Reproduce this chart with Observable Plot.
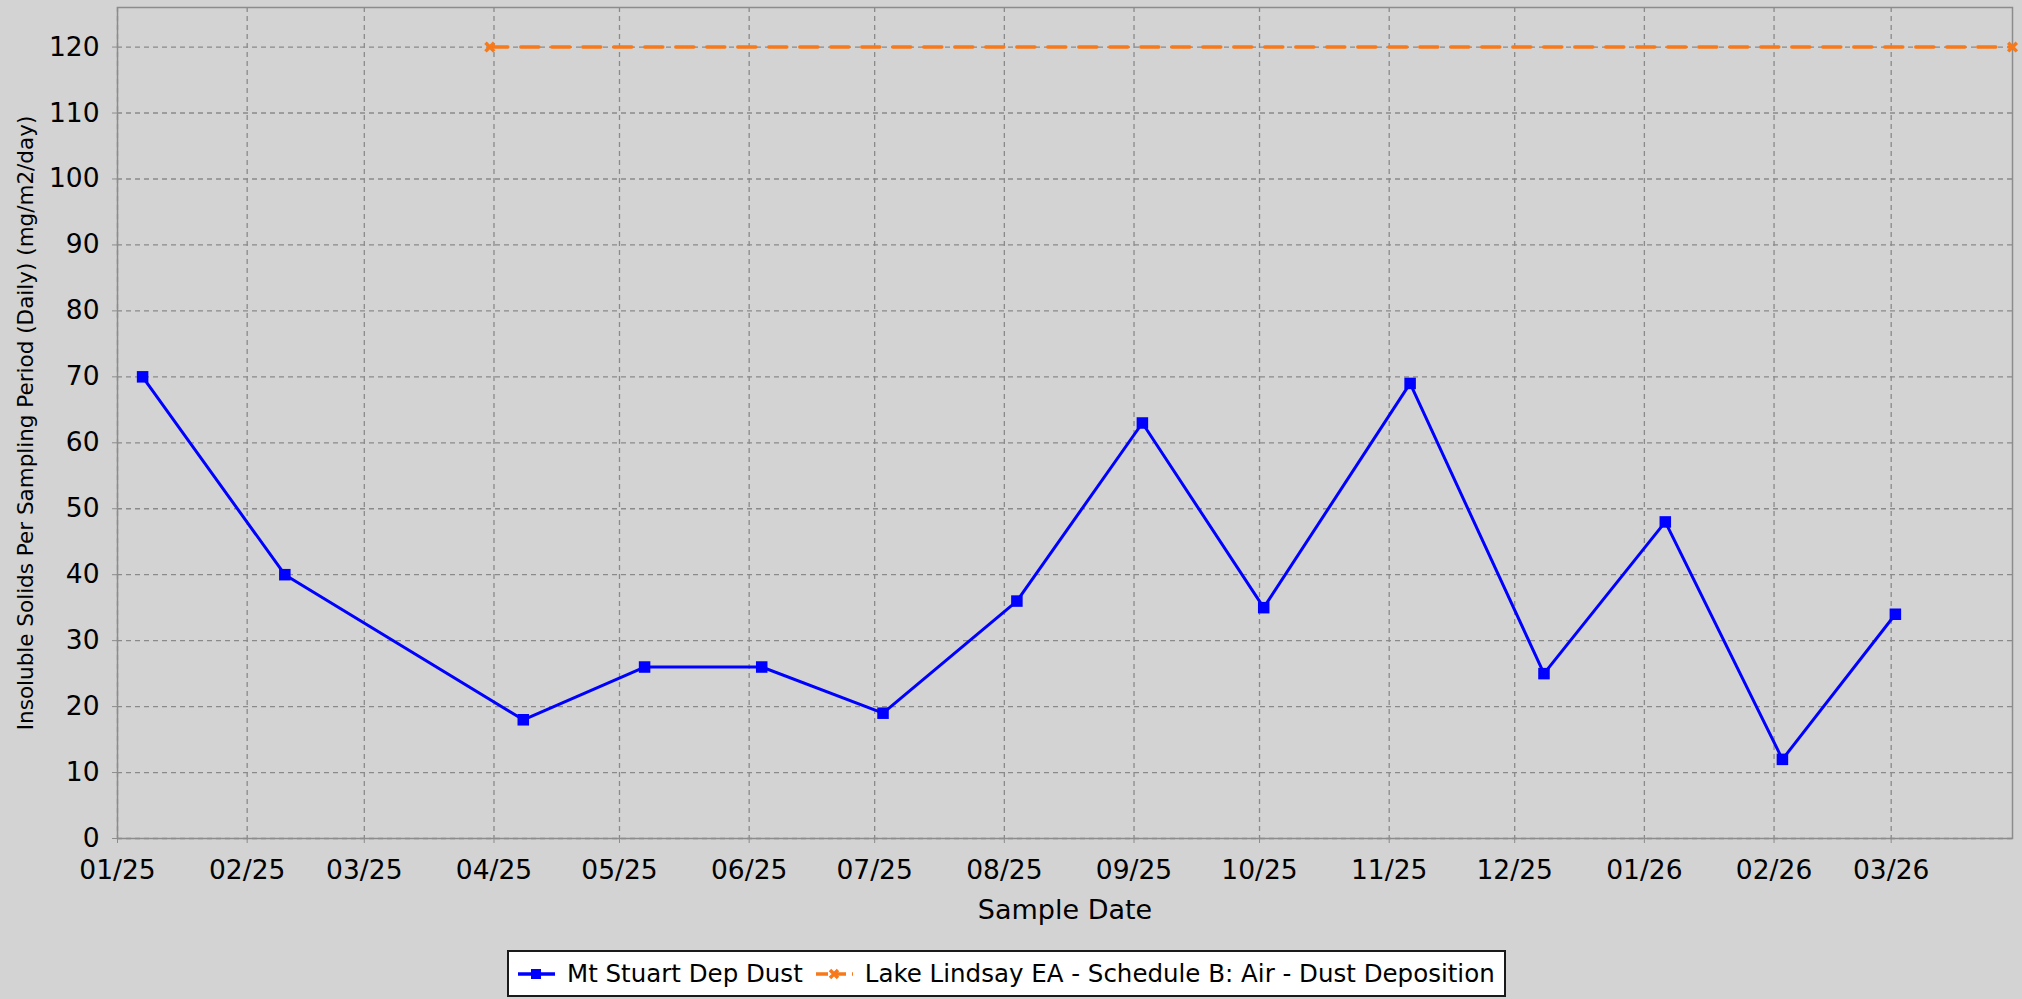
<!DOCTYPE html>
<html>
<head>
<meta charset="utf-8">
<script src="https://cdn.jsdelivr.net/npm/d3@7"></script>
<script src="https://cdn.jsdelivr.net/npm/@observablehq/plot@0.6"></script>
<style>
  html, body { margin: 0; padding: 0; background: #d3d3d3; width: 2022px; height: 999px; overflow: hidden; font-family: "DejaVu Sans", Verdana, sans-serif; }
  #chart { position: absolute; left: 0; top: 0; }
  #legend { position: absolute; left: 507px; top: 950px; width: 995px; height: 43px; border: 2px solid #1a1a1a; background: #ffffff; display: flex; align-items: center; font-size: 24.5px; color: #000; box-sizing: content-box; white-space: nowrap; }
  #legend .item { display: flex; align-items: center; }
  #legend svg { display: block; }
</style>
</head>
<body>
<div id="chart"></div>
<div id="legend"></div>
<script>
// ---- data ----
const seriesNames = ["Mt Stuart Dep Dust", "Lake Lindsay EA - Schedule B: Air - Dust Deposition"];
const dustDates = ["2025-01-07","2025-02-10","2025-04-08","2025-05-07","2025-06-04","2025-07-03","2025-08-04","2025-09-03","2025-10-02","2025-11-06","2025-12-08","2026-01-06","2026-02-03","2026-03-02"];
const dustValues = [70, 40, 18, 26, 26, 19, 36, 63, 35, 69, 25, 48, 12, 34];
const limitDates = ["2025-03-31", "2026-03-30"];
const limitValues = [120, 120];
const xTickLabels = ["2025-01-01","2025-02-01","2025-03-01","2025-04-01","2025-05-01","2025-06-01","2025-07-01","2025-08-01","2025-09-01","2025-10-01","2025-11-01","2025-12-01","2026-01-01","2026-02-01","2026-03-01"];
const yTickValues = [0, 10, 20, 30, 40, 50, 60, 70, 80, 90, 100, 110, 120];
const xDomain = ["2025-01-01", "2026-03-30"];
const yDomain = [0, 126];
const xTitle = "Sample Date";
const yTitle = "Insoluble Solids Per Sampling Period (Daily) (mg/m2/day)";

const parse = s => new Date(s + "T00:00:00Z");
const dust = dustDates.map((d, i) => ({date: parse(d), value: dustValues[i]}));
const limit = limitDates.map((d, i) => ({date: parse(d), value: limitValues[i]}));
const xTicks = xTickLabels.map(parse);

const blue = "#0000ff";
const orange = "#f7791a";
const gridColor = "#8a8a8a";

const chart = Plot.plot({
  width: 2022,
  height: 940,
  marginLeft: 117,
  marginRight: 10,
  marginTop: 7,
  marginBottom: 102,
  style: { background: "transparent", fontFamily: "DejaVu Sans, Verdana, sans-serif", color: "black" },
  x: { type: "utc", domain: xDomain.map(parse) },
  y: { domain: yDomain },
  marks: [
    Plot.gridX(xTicks, { stroke: gridColor, strokeOpacity: 1, strokeWidth: 1.3, strokeDasharray: "5,4" }),
    Plot.gridY(yTickValues, { stroke: gridColor, strokeOpacity: 1, strokeWidth: 1.3, strokeDasharray: "5,4" }),
    Plot.frame({ stroke: "#8c8c8c", strokeWidth: 1.5 }),
    Plot.axisX(xTicks, { tickFormat: d3.utcFormat("%m/%y"), tickSize: 5, tickPadding: 17, fontSize: 26.5, stroke: "#8c8c8c", label: null }),
    Plot.axisY(yTickValues, { tickSize: 5, tickPadding: 13, fontSize: 26.5, stroke: "#8c8c8c", label: null }),
    Plot.text([xTitle], { frameAnchor: "bottom", lineAnchor: "middle", dy: 72, fontSize: 27, fill: "black" }),
    Plot.text([yTitle], { frameAnchor: "left", textAnchor: "middle", lineAnchor: "middle", dx: -91, rotate: -90, fontSize: 21.5, fill: "black" }),
    Plot.line(limit, { x: "date", y: "value", stroke: orange, strokeWidth: 3.5, strokeDasharray: "18,13" }),
    Plot.dot(limit, { x: "date", y: "value", symbol: "times", stroke: orange, strokeWidth: 3.5, r: 4 }),
    Plot.line(dust, { x: "date", y: "value", stroke: blue, strokeWidth: 3 }),
    Plot.dot(dust, { x: "date", y: "value", symbol: "square", fill: blue, r: 6.5 })
  ]
});
document.getElementById("chart").appendChild(chart);

// ---- legend ----
const legend = document.getElementById("legend");
function addItem(name, color, kind, padLeft) {
  const item = document.createElement("div");
  item.className = "item";
  item.style.marginLeft = padLeft + "px";
  const ns = "http://www.w3.org/2000/svg";
  const svg = document.createElementNS(ns, "svg");
  svg.setAttribute("width", 40); svg.setAttribute("height", 24);
  const line = document.createElementNS(ns, "line");
  line.setAttribute("x1", 1); line.setAttribute("x2", 38); line.setAttribute("y1", 12); line.setAttribute("y2", 12);
  line.setAttribute("stroke", color); line.setAttribute("stroke-width", 3.5);
  if (kind === "times") line.setAttribute("stroke-dasharray", "12,6");
  svg.appendChild(line);
  if (kind === "square") {
    const r = document.createElementNS(ns, "rect");
    r.setAttribute("x", 14); r.setAttribute("y", 7); r.setAttribute("width", 10); r.setAttribute("height", 10); r.setAttribute("fill", color);
    svg.appendChild(r);
  } else {
    const p = document.createElementNS(ns, "path");
    p.setAttribute("d", "M15,8L23,16M23,8L15,16");
    p.setAttribute("stroke", color); p.setAttribute("stroke-width", 3.5);
    svg.appendChild(p);
  }
  item.appendChild(svg);
  const t = document.createElement("span");
  t.textContent = name;
  t.style.marginLeft = "10px";
  item.appendChild(t);
  legend.appendChild(item);
}
addItem(seriesNames[0], blue, "square", 8);
addItem(seriesNames[1], orange, "times", 12);
</script>
</body>
</html>
